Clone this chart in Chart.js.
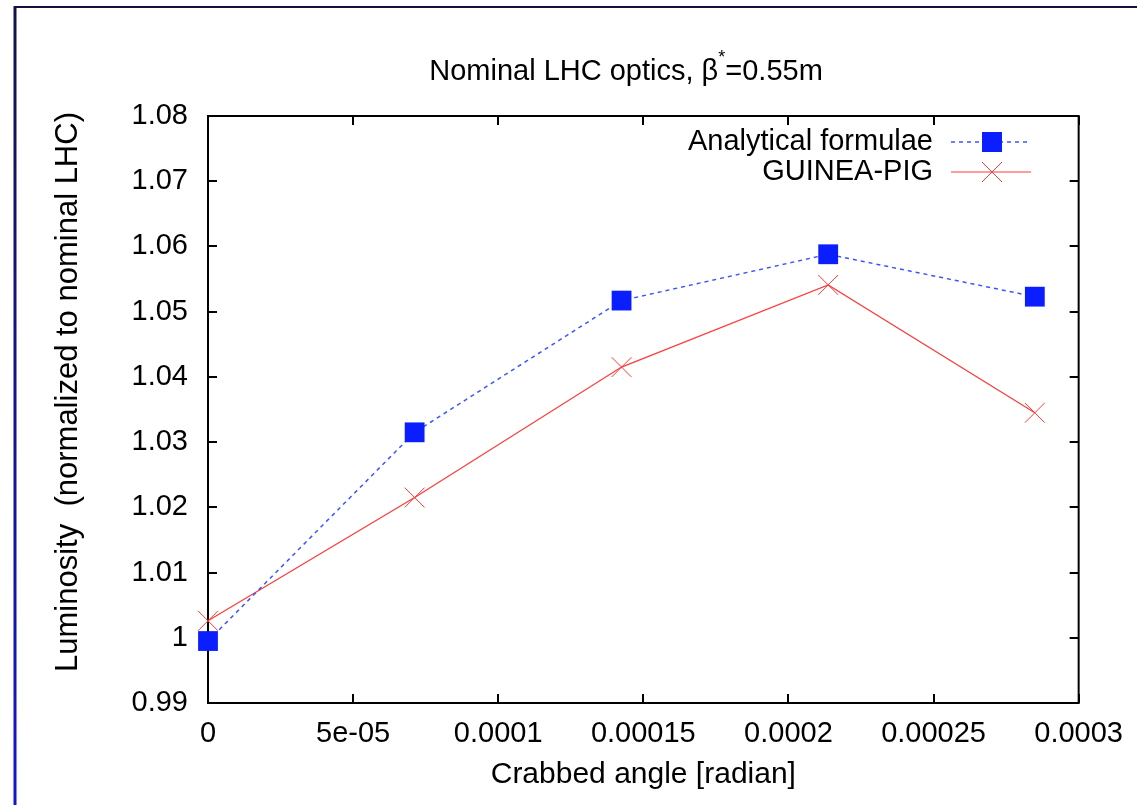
<!DOCTYPE html>
<html>
<head>
<meta charset="utf-8">
<title>Nominal LHC optics</title>
<script src="https://cdn.jsdelivr.net/npm/chart.js@4/dist/chart.umd.min.js"></script>
<style>
  html, body { margin: 0; padding: 0; background: #fff; }
  #wrap { position: relative; width: 1137px; height: 805px; }
</style>
</head>
<body>
<div id="wrap"><canvas id="lumiChart" width="1137" height="805"></canvas></div>
<script>
// Values.
const crabAngles = [0, 7.12e-5, 1.425e-4, 2.137e-4, 2.849e-4];
const analyticalLumi = [0.9995, 1.0315, 1.0517, 1.0588, 1.0523];
const guineaPigLumi = [1.0026, 1.0215, 1.0415, 1.0541, 1.0345];
const seriesNames = ['Analytical formulae', 'GUINEA-PIG'];
const xTickRange = { min: 0, max: 0.0003, step: 0.00005 };
const yTickRange = { min: 0.99, max: 1.08, step: 0.01 };

const FONT = "'Liberation Sans', Arial, Helvetica, sans-serif";
const BLUE = '#0b1eff';
const BLUE_LINE = '#3a55ff';
const RED = '#ff3a3a';

const toPoints = (xs, ys) => xs.map((x, i) => ({ x, y: ys[i] }));

// gnuplot style number labels
const fmtX = (v) => {
  const n = Number(Number(v).toPrecision(6));
  if (n === 0) return '0';
  if (n < 1e-4) {
    const [m, e] = n.toExponential().split('e');
    const sign = e[0] === '-' ? '-' : '+';
    const digits = e.replace(/[-+]/, '').padStart(2, '0');
    return m + 'e' + sign + digits;
  }
  return String(n);
};
const fmtY = (v) => String(Number(Number(v).toFixed(2)));

// Page frame (blue left rule, dark top rule).
const pageFrame = {
  id: 'pageFrame',
  beforeDraw(chart) {
    const { ctx } = chart;
    ctx.save();
    ctx.strokeStyle = '#16103a';
    ctx.lineWidth = 2;
    ctx.beginPath();
    ctx.moveTo(14, 7);
    ctx.lineTo(1137, 7);
    ctx.stroke();
    const grad = ctx.createLinearGradient(0, 7, 0, 805);
    grad.addColorStop(0, '#12124a');
    grad.addColorStop(1, '#1414d2');
    ctx.strokeStyle = grad;
    ctx.lineWidth = 3;
    ctx.beginPath();
    ctx.moveTo(15, 6);
    ctx.lineTo(15, 805);
    ctx.stroke();
    ctx.restore();
  }
};

// Box around the plot with inward ticks on all four sides.
const plotBox = {
  id: 'plotBox',
  beforeDatasetsDraw(chart) {
    const { ctx, chartArea: a, scales } = chart;
    const len = 9;
    ctx.save();
    ctx.strokeStyle = '#000';
    ctx.lineWidth = 2;
    ctx.strokeRect(a.left, a.top, a.right - a.left, a.bottom - a.top);
    ctx.beginPath();
    scales.x.ticks.forEach((t) => {
      const px = Math.round(scales.x.getPixelForValue(t.value));
      ctx.moveTo(px, a.bottom);
      ctx.lineTo(px, a.bottom - len);
      ctx.moveTo(px, a.top);
      ctx.lineTo(px, a.top + len);
    });
    scales.y.ticks.forEach((t) => {
      const py = Math.round(scales.y.getPixelForValue(t.value));
      ctx.moveTo(a.left, py);
      ctx.lineTo(a.left + len, py);
      ctx.moveTo(a.right, py);
      ctx.lineTo(a.right - len, py);
    });
    ctx.stroke();
    ctx.restore();
  }
};

// Title with superscript star, rotated y label, and a gnuplot-like key.
const titleAndKey = {
  id: 'titleAndKey',
  afterDraw(chart) {
    const { ctx } = chart;
    ctx.save();
    ctx.fillStyle = '#000';
    ctx.textBaseline = 'middle';

    const big = '29px ' + FONT;
    const small = '18px ' + FONT;
    const parts = [
      { text: 'Nominal LHC optics, \u03b2', font: big, dy: 0 },
      { text: '*', font: small, dy: -14 },
      { text: '=0.55m', font: big, dy: 0 }
    ];
    let total = 0;
    parts.forEach((p) => { ctx.font = p.font; p.w = ctx.measureText(p.text).width; total += p.w; });
    let x = 626 - total / 2;
    ctx.textAlign = 'left';
    parts.forEach((p) => {
      ctx.font = p.font;
      ctx.fillText(p.text, x, 72 + p.dy);
      x += p.w;
    });

    // y axis label
    ctx.save();
    ctx.translate(68, 392);
    ctx.rotate(-Math.PI / 2);
    ctx.textAlign = 'center';
    ctx.font = '31px ' + FONT;
    ctx.fillText('Luminosity  (normalized to nominal LHC)', 0, 0);
    ctx.restore();

    // key
    const rows = [142, 172];
    ctx.font = big;
    ctx.textAlign = 'right';
    chart.data.datasets.forEach((ds, i) => {
      const y = rows[i];
      ctx.fillStyle = '#000';
      ctx.fillText(ds.label, 933, y);
      ctx.strokeStyle = ds.borderColor;
      ctx.lineWidth = ds.borderWidth;
      ctx.setLineDash(ds.borderDash || []);
      ctx.beginPath();
      ctx.moveTo(951, y);
      ctx.lineTo(1031, y);
      ctx.stroke();
      ctx.setLineDash([]);
      const cx = 992;
      if (ds.pointStyle === 'rect') {
        ctx.fillStyle = ds.pointBackgroundColor;
        ctx.fillRect(cx - 10, y - 10, 20, 20);
      } else {
        ctx.strokeStyle = ds.pointBorderColor;
        ctx.lineWidth = 1;
        ctx.beginPath();
        ctx.moveTo(cx - 10, y - 10);
        ctx.lineTo(cx + 10, y + 10);
        ctx.moveTo(cx - 10, y + 10);
        ctx.lineTo(cx + 10, y - 10);
        ctx.stroke();
      }
    });
    ctx.restore();
  }
};

new Chart(document.getElementById('lumiChart'), {
  type: 'line',
  data: {
    datasets: [
      {
        label: seriesNames[0],
        data: toPoints(crabAngles, analyticalLumi),
        borderColor: BLUE_LINE,
        borderWidth: 1.5,
        borderDash: [4, 4],
        pointStyle: 'rect',
        pointRadius: 14,
        pointBackgroundColor: BLUE,
        pointBorderColor: BLUE,
        pointBorderWidth: 0,
        tension: 0,
        fill: false,
        clip: false
      },
      {
        label: seriesNames[1],
        data: toPoints(crabAngles, guineaPigLumi),
        borderColor: RED,
        borderWidth: 1.2,
        pointStyle: 'crossRot',
        pointRadius: 14,
        pointBorderColor: RED,
        pointBackgroundColor: RED,
        pointBorderWidth: 1,
        tension: 0,
        fill: false,
        clip: false
      }
    ]
  },
  options: {
    responsive: false,
    animation: false,
    layout: { padding: { left: 0, top: 116, right: 56, bottom: 0 } },
    plugins: {
      legend: { display: false },
      title: { display: false },
      tooltip: { enabled: false }
    },
    scales: {
      x: {
        type: 'linear',
        min: xTickRange.min,
        max: xTickRange.max,
        grid: { display: false, drawTicks: false },
        border: { display: false },
        ticks: {
          stepSize: xTickRange.step,
          color: '#000',
          padding: 14,
          maxRotation: 0,
          autoSkip: false,
          font: { family: FONT, size: 29 },
          callback: (v) => fmtX(v)
        },
        title: {
          display: true,
          text: 'Crabbed angle [radian]',
          color: '#000',
          font: { family: FONT, size: 30 },
          padding: { top: 0, bottom: 12 }
        },
        afterFit: (scale) => { scale.height = 102; }
      },
      y: {
        type: 'linear',
        min: yTickRange.min,
        max: yTickRange.max,
        grid: { display: false, drawTicks: false },
        border: { display: false },
        ticks: {
          stepSize: yTickRange.step,
          color: '#000',
          padding: 20,
          autoSkip: false,
          font: { family: FONT, size: 29 },
          callback: (v) => fmtY(v)
        },
        afterFit: (scale) => { scale.width = 208; }
      }
    }
  },
  plugins: [pageFrame, plotBox, titleAndKey]
});
</script>
</body>
</html>
